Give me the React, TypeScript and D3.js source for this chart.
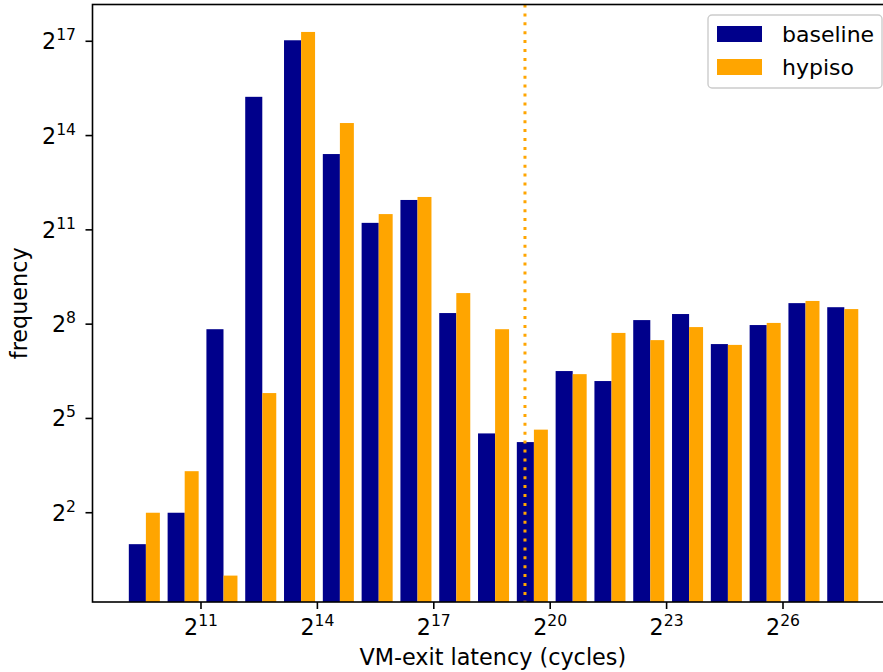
import React, { useEffect, useRef } from "react";
import * as d3 from "d3";

// lower exponent of each histogram bin (bin = [2^b, 2^(b+1)))
const bins = [9, 10, 11, 12, 13, 14, 15, 16, 17, 18, 19, 20, 21, 22, 23, 24, 25, 26, 27];
const baseline = [2, 4, 229, 38500, 134000, 10900, 2390, 3960, 327, 23, 19, 91, 73, 280, 320, 165, 251, 407, 372];
const hypiso = [4, 10, 1, 56, 161000, 21600, 2900, 4230, 508, 229, 25, 85, 211, 180, 240, 162, 263, 427, 357];
const xTickExps = [11, 14, 17, 20, 23, 26];
const yTickExps = [2, 5, 8, 11, 14, 17];
const seriesNames = ["baseline", "hypiso"];
const thresholdExp = 19.35;

export default function App() {
  const ref = useRef<SVGSVGElement>(null);

  useEffect(() => {
    const svg = d3.select(ref.current);
    svg.selectAll("*").remove();

    const width = 883;
    const height = 672;
    const left = 92.5;
    const right = 893;
    const top = 4.5;
    const bottom = 602;
    const font = "DejaVu Sans, sans-serif";
    const colors = ["#00008b", "#ffa500"];

    const x = d3.scaleLog().base(2).domain([2 ** 8.204, 2 ** 28.835]).range([left, right]);
    const y = d3.scaleLog().base(2).domain([2 ** -0.84, 2 ** 18.17]).range([bottom, top]);

    svg.attr("width", width).attr("height", height);

    const g = svg.append("g");

    // bars
    const offsets = [
      [0.14, 0.58],
      [0.58, 0.94],
    ];
    [baseline, hypiso].forEach((vals, si) => {
      g.selectAll(`.bar${si}`)
        .data(bins)
        .enter()
        .append("rect")
        .attr("class", `bar${si}`)
        .attr("x", (b) => x(2 ** (b + offsets[si][0])))
        .attr("width", (b) => x(2 ** (b + offsets[si][1])) - x(2 ** (b + offsets[si][0])))
        .attr("y", (_, i) => y(vals[i]))
        .attr("height", (_, i) => bottom - y(vals[i]))
        .style("fill", colors[si]);
    });

    // dotted threshold line
    g.append("line")
      .attr("x1", x(2 ** thresholdExp))
      .attr("x2", x(2 ** thresholdExp))
      .attr("y1", top)
      .attr("y2", bottom)
      .attr("stroke", "#ffa500")
      .attr("stroke-width", 3)
      .attr("stroke-dasharray", "3 5.9");

    // spines
    g.append("rect")
      .attr("x", left)
      .attr("y", top)
      .attr("width", right - left)
      .attr("height", bottom - top)
      .attr("fill", "none")
      .attr("stroke", "#000")
      .attr("stroke-width", 1.6);

    // x ticks
    xTickExps.forEach((e) => {
      const px = x(2 ** e);
      g.append("line")
        .attr("x1", px).attr("x2", px)
        .attr("y1", bottom).attr("y2", bottom + 7)
        .attr("stroke", "#000").attr("stroke-width", 1.6);
      const t = g.append("text")
        .attr("x", px)
        .attr("y", 635)
        .attr("text-anchor", "middle")
        .style("font-family", font)
        .style("font-size", "22.2px");
      t.append("tspan").text("2");
      t.append("tspan").attr("dy", -9).style("font-size", "15.6px").text(String(e));
    });

    // y ticks
    yTickExps.forEach((e) => {
      const py = y(2 ** e);
      g.append("line")
        .attr("x1", left - 7).attr("x2", left)
        .attr("y1", py).attr("y2", py)
        .attr("stroke", "#000").attr("stroke-width", 1.6);
      const t = g.append("text")
        .attr("x", 76)
        .attr("y", py + 8)
        .attr("text-anchor", "end")
        .style("font-family", font)
        .style("font-size", "22.2px");
      t.append("tspan").text("2");
      t.append("tspan").attr("dy", -9).style("font-size", "15.6px").text(String(e));
    });

    // axis labels
    g.append("text")
      .attr("x", (left + right) / 2)
      .attr("y", 665)
      .attr("text-anchor", "middle")
      .style("font-family", font)
      .style("font-size", "22.3px")
      .text("VM-exit latency (cycles)");

    g.append("text")
      .attr("transform", `translate(27, ${(top + bottom) / 2}) rotate(-90)`)
      .attr("text-anchor", "middle")
      .style("font-family", font)
      .style("font-size", "22.3px")
      .text("frequency");

    // legend
    const lg = g.append("g");
    lg.append("rect")
      .attr("x", 708)
      .attr("y", 15)
      .attr("width", 174)
      .attr("height", 73)
      .attr("rx", 4)
      .attr("fill", "#fff")
      .attr("fill-opacity", 0.8)
      .attr("stroke", "#cccccc")
      .attr("stroke-width", 1.4);
    seriesNames.forEach((name, i) => {
      lg.append("rect")
        .attr("x", 717)
        .attr("y", 26 + i * 33)
        .attr("width", 45)
        .attr("height", 16)
        .attr("fill", colors[i]);
      lg.append("text")
        .attr("x", 782)
        .attr("y", 42 + i * 33)
        .style("font-family", font)
        .style("font-size", "22px")
        .text(name);
    });
  });

  return (
    <div style={{ position: "absolute", left: 0, top: 0 }}>
      <svg ref={ref}></svg>
    </div>
  );
}
